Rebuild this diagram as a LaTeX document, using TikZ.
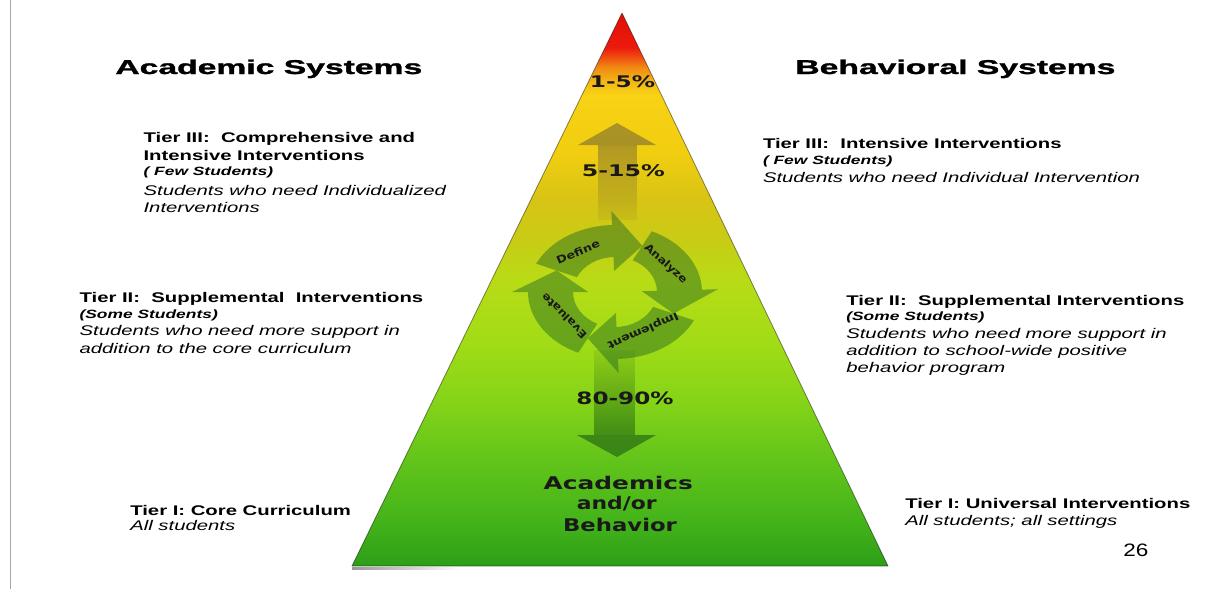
\documentclass[tikz,border=0pt]{standalone}
\usepackage{fontspec}
\setmainfont{Liberation Sans}
\newfontfamily\pyrfont{DejaVu Sans}
\newfontfamily\heavyfont[FakeBold=1.2]{Liberation Sans Bold}
\usetikzlibrary{fadings}
\definecolor{cA}{HTML}{E01008}
\definecolor{cA2}{HTML}{EC1A0C}
\definecolor{cB}{HTML}{F04E10}
\definecolor{cC}{HTML}{F08A12}
\definecolor{cD}{HTML}{F4B416}
\definecolor{cF}{HTML}{F8D214}
\definecolor{cG}{HTML}{F2CE10}
\definecolor{cH}{HTML}{D8C414}
\definecolor{cI}{HTML}{C8CC14}
\definecolor{cJ}{HTML}{B8DC16}
\definecolor{cK}{HTML}{A2DC16}
\definecolor{cL}{HTML}{86D418}
\definecolor{cM}{HTML}{62C41A}
\definecolor{cN}{HTML}{44B41A}
\definecolor{cO}{HTML}{2E9E18}
\definecolor{uparrowc}{RGB}{90,80,60}
\definecolor{downarrowc}{RGB}{20,80,20}
\definecolor{cycc}{RGB}{50,115,32}
\pgfdeclareverticalshading{pyrshade}{100bp}{color(0bp)=(cO); color(25bp)=(cO); color(29.16bp)=(cN); color(34.58bp)=(cM); color(40.01bp)=(cL); color(45.43bp)=(cK); color(50.86bp)=(cJ); color(54.48bp)=(cI); color(58.09bp)=(cH); color(62.61bp)=(cG); color(67.59bp)=(cF); color(68.9bp)=(cD); color(70.1bp)=(cC); color(71.0bp)=(cB); color(71.9bp)=(cA2); color(75bp)=(cA); color(100bp)=(cA)}
\tikzfading[name=fadedown, top color=transparent!10, bottom color=transparent!85]
\tikzfading[name=fadeup, top color=transparent!85, bottom color=transparent!10]
\tikzfading[name=faderight, left color=transparent!0, right color=transparent!100]
\begin{document}
\begin{tikzpicture}[x=1pt,y=-1pt,
  body/.style={inner sep=0pt, anchor=base west, xscale=1.45, font=\fontsize{14}{17}\selectfont\bfseries},
  bodyit/.style={inner sep=0pt, anchor=base west, xscale=1.45, font=\fontsize{14}{17}\selectfont\itshape},
  few/.style={inner sep=0pt, anchor=base west, xscale=1.45, font=\fontsize{12}{14}\selectfont\bfseries\itshape},
  title/.style={inner sep=0pt, anchor=base west, xscale=1.684, font=\heavyfont\fontsize{20}{24}\selectfont},
  pyrtext/.style={inner sep=0pt, anchor=base, text=black!90, font=\pyrfont\bfseries\fontsize{16}{19}\selectfont},
  bigtext/.style={inner sep=0pt, anchor=base, text=black!90, font=\pyrfont\bfseries\fontsize{17.5}{21}\selectfont},
  cyctext/.style={inner sep=0pt, anchor=center, text=black!90, font=\pyrfont\bfseries\fontsize{10.5}{12}\selectfont},
  cycarrow/.style={fill=cycc, fill opacity=0.52},
]
\useasboundingbox (0,0) rectangle (1223,589);
\fill[white] (0,0) rectangle (1223,589);
% left page rule
\coordinate (ruletop) at (10,0);
\coordinate (rulebot) at (10,589);
\draw[black!35, line width=1pt] (ruletop) -- (rulebot);
% pyramid
\coordinate (apex) at (622,13);
\coordinate (br) at (888,566);
\coordinate (bl) at (352,566);
\shade[shading=pyrshade] (apex) -- (br) -- (bl) -- cycle;
% base shadow
\fill[black!40, path fading=faderight] (352,566.5) rectangle (460,570);
% vertical arrows
\fill[uparrowc, fill opacity=0.48] (617,123) -- (656,145) -- (578,145) -- cycle;
\fill[uparrowc, fill opacity=0.48, path fading=fadedown] (598,145) rectangle (637,220);
\fill[downarrowc, fill opacity=0.55, path fading=fadeup] (594,350) rectangle (635,435);
\fill[downarrowc, fill opacity=0.55] (577,435) -- (656,435) -- (617,457) -- cycle;
% cycle arrows
\begin{scope}[shift={(615,292)}, yscale=-1]
\foreach \t/\b/\p in {155/92/65, 65/2/-25, -25/-88/-115, -115/-180/-205}{
  \fill[cycarrow] ({87*cos(\t)},{67*sin(\t)}) arc[start angle=\t, end angle=\b, x radius=87, y radius=67]
    -- ({103*cos(\b)},{81*sin(\b)}) -- ({64.5*cos(\p)},{51*sin(\p)}) -- ({27*cos(\b)},{21*sin(\b)})
    -- ({42*cos(\b)},{35*sin(\b)}) arc[start angle=\b, end angle=\t, x radius=42, y radius=35] -- cycle;
}
\end{scope}
\node[cyctext, rotate=23, xscale=1.2] (define) at (578,252) {Define};
\node[cyctext, rotate=-42, xscale=1.15] (analyze) at (665.5,264) {Analyze};
\node[cyctext, rotate=204, xscale=1.2] (implement) at (643,330.5) {Implement};
\node[cyctext, rotate=135, xscale=1.15] (evaluate) at (564,316) {Evaluate};
% pyramid outline
\draw[black, opacity=0.45, line width=0.8pt, line join=round] (apex) -- (br) -- (bl) -- cycle;
% percentages
\node[pyrtext, xscale=1.45] (p15) at (622.5,87.3) {1-5\%};
\node[pyrtext, xscale=1.48] (p515) at (623.3,176.7) {5-15\%};
\node[pyrtext, xscale=1.36, font=\pyrfont\bfseries\fontsize{17}{20}\selectfont] (p8090) at (625,404) {80-90\%};
\node[bigtext, xscale=1.42] (acad) at (618.3,489.3) {Academics};
\node[bigtext, xscale=1.25] (andor) at (616.7,509.3) {and/or};
\node[bigtext, xscale=1.3] (behav) at (620,531.7) {Behavior};
% titles
\node[title] (tl) at (115,74) {Academic Systems};
\node[title] (tr) at (795,74) {Behavioral Systems};
% left texts
\node[body] (la1) at (143.3,142.7) {Tier III:\ \ Comprehensive and};
\node[body] (la2) at (143.3,160) {Intensive Interventions};
\node[few] (la3) at (143.3,175) {( Few Students)};
\node[bodyit] (la4) at (143.3,195) {Students who need Individualized};
\node[bodyit] (la5) at (143.3,212.7) {Interventions};
\node[body] (lb1) at (79.3,302.7) {Tier II:\ \ Supplemental\ \ Interventions};
\node[few] (lb2) at (79.3,318.3) {(Some Students)};
\node[bodyit] (lb3) at (79.3,335.7) {Students who need more support in};
\node[bodyit] (lb4) at (79.3,353.3) {addition to the core curriculum};
\node[body] (lc1) at (130,515) {Tier I: Core Curriculum};
\node[bodyit] (lc2) at (130,530.7) {All students};
% right texts
\node[body] (ra1) at (762.7,148.3) {Tier III:\ \ Intensive Interventions};
\node[few] (ra2) at (762.7,164.3) {( Few Students)};
\node[bodyit] (ra3) at (762.7,182.3) {Students who need Individual Intervention};
\node[body] (rb1) at (846,305) {Tier II:\ \ Supplemental Interventions};
\node[few] (rb2) at (846,320) {(Some Students)};
\node[bodyit] (rb3) at (846,338.3) {Students who need more support in};
\node[bodyit] (rb4) at (846,355) {addition to school-wide positive};
\node[bodyit] (rb5) at (846,372.3) {behavior program};
\node[body] (rc1) at (905,508.3) {Tier I: Universal Interventions};
\node[bodyit] (rc2) at (905,525) {All students; all settings};
\node[inner sep=0pt, anchor=base west, xscale=1.25, font=\fontsize{18}{21}\selectfont] (pg) at (1123,556) {26};
\end{tikzpicture}
\end{document}
